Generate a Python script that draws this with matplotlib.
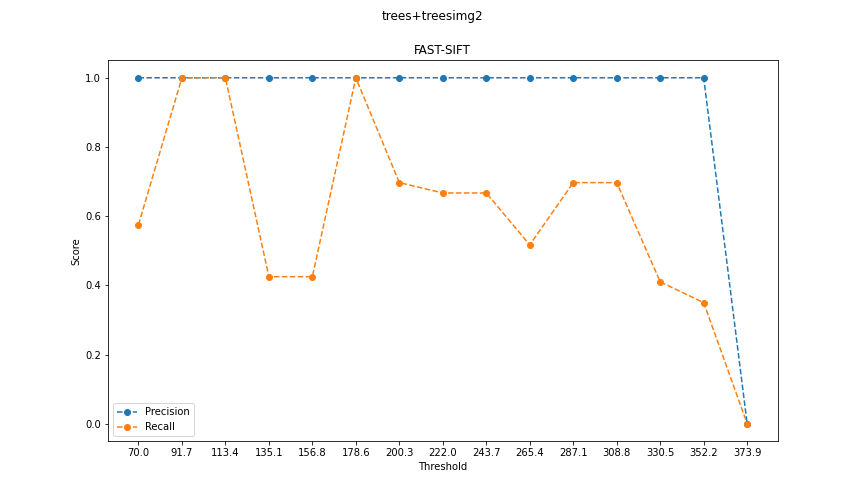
import matplotlib
matplotlib.use("Agg")
import matplotlib.pyplot as plt

thresholds = ["70.0", "91.7", "113.4", "135.1", "156.8", "178.6", "200.3", "222.0",
              "243.7", "265.4", "287.1", "308.8", "330.5", "352.2", "373.9"]
precision = [1.0, 1.0, 1.0, 1.0, 1.0, 1.0, 1.0, 1.0, 1.0, 1.0, 1.0, 1.0, 1.0, 1.0, 0.0]
recall = [0.575, 1.0, 1.0, 0.425, 0.425, 1.0, 0.697, 0.667, 0.667, 0.517,
          0.697, 0.697, 0.41, 0.35, 0.0]

fig = plt.figure(figsize=(12, 7), dpi=72)
plt.subplots_adjust(bottom=0.125)
fig.suptitle("trees+treesimg2")
plt.title("FAST-SIFT")
plt.plot(thresholds, precision, "o--", label="Precision")
plt.plot(thresholds, recall, "o--", label="Recall")
plt.xlabel("Threshold")
plt.ylabel("Score")
plt.legend(loc="lower left")
plt.savefig("out.png")
